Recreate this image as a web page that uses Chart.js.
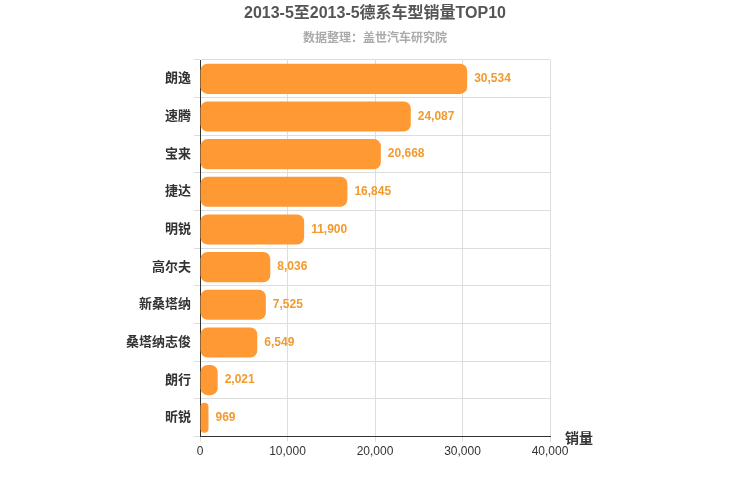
<!DOCTYPE html>
<html><head><meta charset="utf-8">
<script src="https://cdn.jsdelivr.net/npm/chart.js@4"></script>
<style>body{margin:0;background:#fff}#w{width:750px;height:500px}</style>
</head><body><div id="w"><canvas id="c"></canvas></div>
<script>
const categories=["朗逸","速腾","宝来","捷达","明锐","高尔夫","新桑塔纳","桑塔纳志俊","朗行","昕锐"];
const sales=[30534,24087,20668,16845,11900,8036,7525,6549,2021,969];
const xTicks=[0,10000,20000,30000,40000];
const F="'Liberation Sans','Noto Sans CJK SC',sans-serif";
const labelPlugin={id:'lbl',afterDatasetsDraw(ch){const c=ch.ctx;const m=ch.getDatasetMeta(0);c.save();c.font="bold 12px "+F;c.fillStyle="#F39A2E";c.textBaseline="middle";m.data.forEach((b,i)=>{c.fillText(sales[i].toLocaleString('en-US'),b.x+7,b.y);});
const xa=ch.scales.x;c.font="bold 14px "+F;c.fillStyle="#333";c.fillText("销量",xa.right+15,xa.top+3);
c.textAlign="center";c.font="bold 16px "+F;c.fillStyle="#555";c.fillText("2013-5至2013-5德系车型销量TOP10",375,14);
c.font="bold 12px "+F;c.fillStyle="#aaa";c.fillText("数据整理：盖世汽车研究院",375,39);c.restore();}};
new Chart(document.getElementById('c'),{type:'bar',data:{labels:categories,datasets:[{data:sales,backgroundColor:'#FF9933',borderRadius:7,borderSkipped:false,barPercentage:0.8,categoryPercentage:1}]},
options:{indexAxis:'y',responsive:true,maintainAspectRatio:false,animation:false,
layout:{padding:{left:123,right:200,top:60,bottom:38}},
plugins:{legend:{display:false},tooltip:{enabled:false}},
scales:{x:{min:0,max:40000,afterBuildTicks:a=>{a.ticks=xTicks.map(v=>({value:v}));},ticks:{color:'#333',font:{family:F,size:12},callback:v=>v.toLocaleString('en-US')},grid:{color:'#ddd',tickLength:5},border:{color:'#333'}},
y:{ticks:{color:'#333',font:{family:F,size:13,weight:'bold'}},grid:{color:'#ddd',offset:true,tickLength:6},border:{color:'#333'}}}},
plugins:[labelPlugin]});
</script></body></html>
